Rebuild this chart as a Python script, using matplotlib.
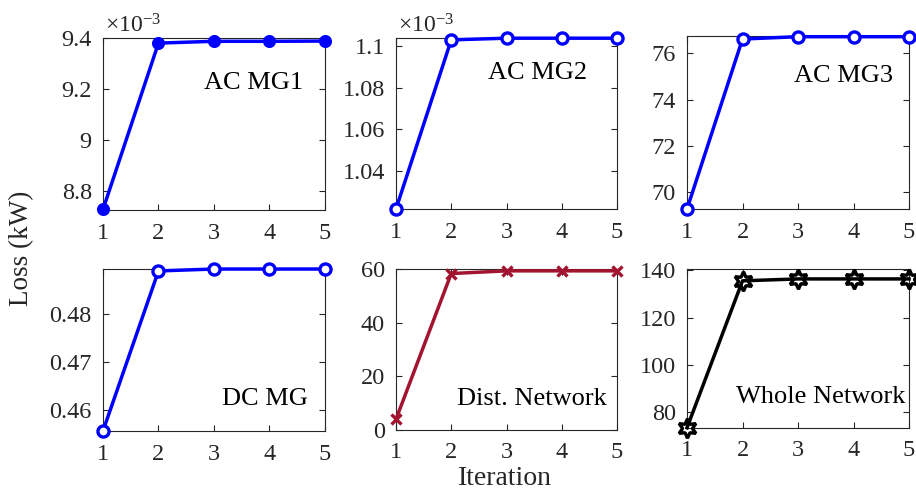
import numpy as np
import matplotlib.pyplot as plt
from matplotlib.ticker import FixedLocator

plt.rcParams['font.family'] = ['Liberation Serif', 'DejaVu Serif']
plt.rcParams['mathtext.fontset'] = 'custom'
plt.rcParams['mathtext.rm'] = 'Liberation Serif'
plt.rcParams['mathtext.it'] = 'Liberation Serif:italic'

iteration = [1, 2, 3, 4, 5]

# losses per iteration (kW)
ac_mg1 = [8.727e-3, 9.380e-3, 9.387e-3, 9.387e-3, 9.388e-3]
ac_mg2 = [1.0216e-3, 1.1029e-3, 1.1037e-3, 1.1037e-3, 1.1037e-3]
ac_mg3 = [69.28, 76.62, 76.72, 76.72, 76.72]
dc_mg = [0.4556, 0.4890, 0.4894, 0.4894, 0.4894]
dist_net = [4.0, 58.3, 59.3, 59.3, 59.3]
whole_net = [73.5, 135.6, 136.4, 136.4, 136.4]

GRAY = '#262626'
BLUE = (0, 0, 1)
CRIMSON = '#A2142F'

fig = plt.figure(figsize=(9.16, 4.96), dpi=100)

# [left, bottom, width, height]
pos = [
    [0.1124, 0.5766, 0.2424, 0.3468],
    [0.4323, 0.5786, 0.2413, 0.3448],
    [0.7500, 0.5786, 0.2424, 0.3488],
    [0.1124, 0.1310, 0.2424, 0.3266],
    [0.4323, 0.1331, 0.2413, 0.3246],
    [0.7500, 0.1371, 0.2424, 0.3206],
]

panels = [
    dict(y=np.array(ac_mg1) * 1e3, ylim=(8.725, 9.40), yt=[8.8, 9.0, 9.2, 9.4],
         yl=['8.8', '9', '9.2', '9.4'], name='AC MG1', tx=0.90, ty=0.74,
         color=BLUE, marker='o', mfc=BLUE, ms=7, scale=True),
    dict(y=np.array(ac_mg2) * 1e3, ylim=(1.0216, 1.1038), yt=[1.04, 1.06, 1.08, 1.10],
         yl=['1.04', '1.06', '1.08', '1.1'], name='AC MG2', tx=0.865, ty=0.795,
         color=BLUE, marker='o', mfc='white', ms=8, scale=True),
    dict(y=ac_mg3, ylim=(69.28, 76.75), yt=[70, 72, 74, 76],
         yl=['70', '72', '74', '76'], name='AC MG3', tx=0.93, ty=0.77,
         color=BLUE, marker='o', mfc='white', ms=8, scale=False),
    dict(y=dc_mg, ylim=(0.4556, 0.4894), yt=[0.46, 0.47, 0.48],
         yl=['0.46', '0.47', '0.48'], name='DC MG', tx=0.925, ty=0.20,
         color=BLUE, marker='o', mfc='white', ms=8, scale=False),
    dict(y=dist_net, ylim=(0, 60), yt=[0, 20, 40, 60],
         yl=['0', '20', '40', '60'], name='Dist. Network', tx=0.955, ty=0.19,
         color=CRIMSON, marker='x', mfc=CRIMSON, ms=7, scale=False),
    dict(y=whole_net, ylim=(73.4, 140.6), yt=[80, 100, 120, 140],
         yl=['80', '100', '120', '140'], name='Whole Network', tx=0.985, ty=0.195,
         color='black', marker=(6, 1, 0), mfc='none', ms=14, scale=False),
]

for p, rect in zip(panels, pos):
    ax = fig.add_axes(rect)
    ax.plot(iteration, p['y'], color=p['color'], lw=2.5, marker=p['marker'],
            ms=p['ms'], mfc=p['mfc'], mec=p['color'], mew=2.4, clip_on=False,
            zorder=3)
    ax.set_xlim(1, 5)
    ax.set_ylim(*p['ylim'])
    ax.set_xticks(iteration)
    ax.yaxis.set_major_locator(FixedLocator(p['yt']))
    ax.set_yticklabels(p['yl'])
    ax.tick_params(direction='in', length=4, width=0.8, colors=GRAY,
                   labelsize=17.5, top=True, right=True)
    ax.tick_params(axis='x', pad=9)
    ax.tick_params(axis='y', pad=8)
    for s in ax.spines.values():
        s.set_color(GRAY)
        s.set_linewidth(0.8)
    ax.text(p['tx'], p['ty'], p['name'], transform=ax.transAxes, ha='right',
            va='center', fontsize=19, color='black')
    if p['scale']:
        ax.text(0.01, 1.0, r'$\times10^{-3}$', transform=ax.transAxes,
                ha='left', va='bottom', fontsize=17, color=GRAY)

fig.text(0.024, 0.5, 'Loss (kW)', rotation=90, ha='center', va='center',
         fontsize=19.5, color=GRAY)
fig.text(0.551, 0.036, 'Iteration', ha='center', va='center', fontsize=20,
         color=GRAY)

fig.savefig('out.png', dpi=100)
